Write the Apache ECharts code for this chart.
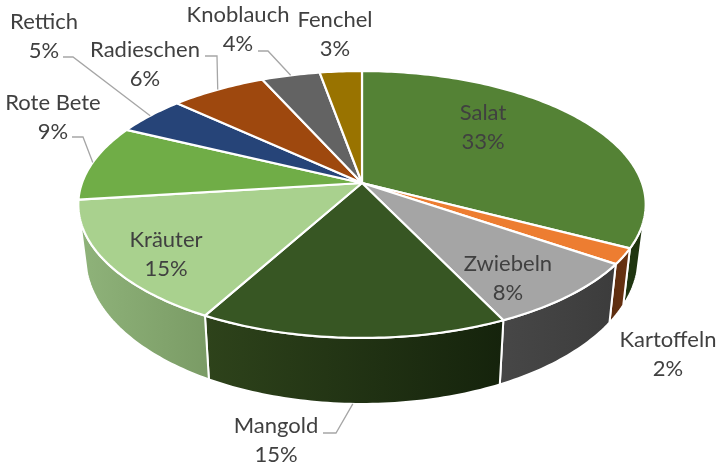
<!DOCTYPE html>
<html><head><meta charset="utf-8">
<style>html,body{margin:0;padding:0;background:#fff}#c{width:720px;height:468px}</style>
<script src="https://cdn.jsdelivr.net/npm/echarts@6/dist/echarts.min.js"></script>
</head><body><div id="c"></div>
<script>
const categories = ['Salat','Kartoffeln','Zwiebeln','Mangold','Kräuter','Rote Bete','Rettich','Radieschen','Knoblauch','Fenchel'];
const values = [32.7,1.9,8.3,15.1,15.0,9.2,4.7,6.4,3.9,2.8];
const topColors = ['#548235','#ed7d31','#a5a5a5','#375623','#a9d18e','#70ad47','#264478','#9e480e','#636363','#997300'];
// wall gradient, colour at the left and at the right of each visible wall
const wallLeft = ['#1f3510','#5a2c0e','#474747','#2e431b','#8fb37a','#000','#000','#000','#000','#000'];
const wallRight = ['#1f3510','#6a3312','#3c3c3c','#15230c','#7a9b65','#000','#000','#000','#000','#000'];
// label centre positions (x, y of the two-line block) and leader elbows (null = no leader)
const labelPos = [[483,127],[668,354],[508,278],[276,440],[166,254],[53,117],[44,36],[145,64],[238,29],[335,34]];
const leaderStart = [null,null,null,[323,433],null,[72,137],[63,57],[205,56],[258,51],null];
const leaderElbow = [null,null,null,[336,433],null,[83,137],[73,57],[217,56],[268,51],null];

// projection of the tilted disc
const cx=362, cy=183, Rx=280, Ry=130, k=0.161;
const botF=0.975, botFy=1.10, botCy=233.5;
const wallFrom=105, wallTo=255;
const total=values.reduce((a,b)=>a+b,0);
const starts=[]; values.reduce((acc,v,i)=>{starts[i]=acc/total*360;return acc+v;},0);
const rng=i=>[starts[i],starts[i]+values[i]/total*360];
function topPt(deg){const t=deg*Math.PI/180,u=Math.sin(t),v=-Math.cos(t),s=1/(1-k*v);return [cx+Rx*u*s,cy+Ry*v*s];}
function botPt(deg){const p=topPt(deg);return [cx+botF*(p[0]-cx),botCy+botFy*(p[1]-cy)];}
function arc(fn,a,b){const n=Math.max(2,Math.ceil(Math.abs(b-a))),o=[];for(let j=0;j<=n;j++)o.push(fn(a+(b-a)*j/n));return o;}

const wallSeries={type:'custom',coordinateSystem:'none',silent:true,z:1,data:values,renderItem(p){
  const i=p.dataIndex,[a0,b0]=rng(i),a=Math.max(a0,wallFrom),b=Math.min(b0,wallTo);
  if(b<=a) return {type:'group',children:[]};
  const pts=arc(topPt,a,b).concat(arc(botPt,b,a));
  return {type:'polygon',shape:{points:pts},style:{
    fill:new echarts.graphic.LinearGradient(0,0,1,0,[{offset:0,color:wallLeft[i]},{offset:1,color:wallRight[i]}]),
    stroke:'#fff',lineWidth:2,lineJoin:'round'}};
}};

const topSeries={type:'custom',coordinateSystem:'none',silent:true,z:2,data:values,renderItem(p){
  const i=p.dataIndex,[a,b]=rng(i);
  const pts=[[cx,cy]].concat(arc(topPt,a,b));
  return {type:'polygon',shape:{points:pts},style:{fill:topColors[i],stroke:'#fff',lineWidth:2.2,lineJoin:'round'}};
}};

const leaderSeries={type:'custom',coordinateSystem:'none',silent:true,z:3,data:values,renderItem(p){
  const i=p.dataIndex; if(!leaderStart[i]) return {type:'group',children:[]};
  const [a,b]=rng(i),mid=(a+b)/2;
  const end=(mid>wallFrom&&mid<wallTo)?botPt(mid):topPt(mid);
  return {type:'polyline',shape:{points:[leaderStart[i],leaderElbow[i],end]},style:{fill:'none',stroke:'#a6a6a6',lineWidth:1.3}};
}};

const labelSeries={type:'custom',coordinateSystem:'none',silent:true,z:4,data:values,renderItem(p){
  const i=p.dataIndex,pct=Math.round(values[i]/total*100)+'%';
  return {type:'text',x:labelPos[i][0],y:labelPos[i][1],style:{text:categories[i]+'\n'+pct,fill:'#404040',
    font:'22px Lato, "Open Sans", sans-serif',lineHeight:29,align:'center',verticalAlign:'middle'}};
}};

const chart=echarts.init(document.getElementById('c'),null,{renderer:'canvas'});
chart.setOption({animation:false,backgroundColor:'#fff',series:[wallSeries,topSeries,leaderSeries,labelSeries]});
</script></body></html>
